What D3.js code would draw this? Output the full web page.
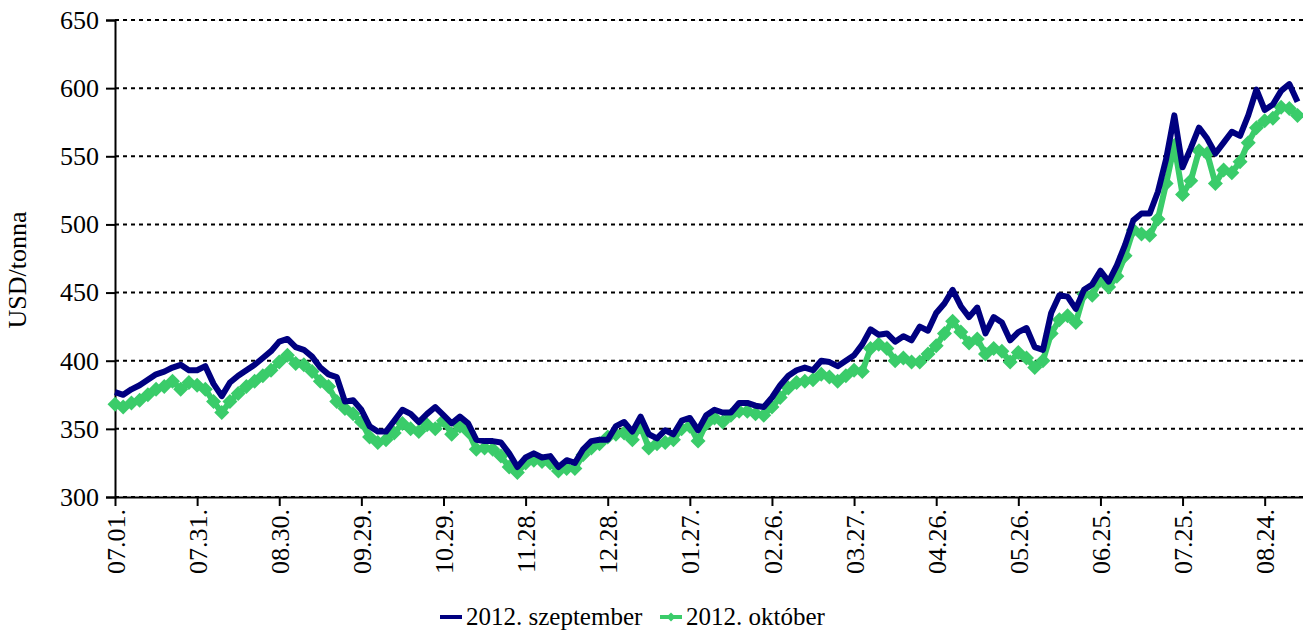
<!DOCTYPE html>
<html>
<head>
<meta charset="utf-8">
<script src="https://cdn.jsdelivr.net/npm/d3@7"></script>
<style>
  body { margin: 0; background: #fff; }
</style>
</head>
<body>
<div class="chart_container"></div>
<script>
// dates every 3 days, 2011-07-01 .. 2012-09-05
const dates = [
  "2011-07-01","2011-07-04","2011-07-07","2011-07-10","2011-07-13","2011-07-16","2011-07-19","2011-07-22","2011-07-25","2011-07-28","2011-07-31",
  "2011-08-03","2011-08-06","2011-08-09","2011-08-12","2011-08-15","2011-08-18","2011-08-21","2011-08-24","2011-08-27","2011-08-30",
  "2011-09-02","2011-09-05","2011-09-08","2011-09-11","2011-09-14","2011-09-17","2011-09-20","2011-09-23","2011-09-26","2011-09-29",
  "2011-10-02","2011-10-05","2011-10-08","2011-10-11","2011-10-14","2011-10-17","2011-10-20","2011-10-23","2011-10-26","2011-10-29",
  "2011-11-01","2011-11-04","2011-11-07","2011-11-10","2011-11-13","2011-11-16","2011-11-19","2011-11-22","2011-11-25","2011-11-28",
  "2011-12-01","2011-12-04","2011-12-07","2011-12-10","2011-12-13","2011-12-16","2011-12-19","2011-12-22","2011-12-25","2011-12-28","2011-12-31",
  "2012-01-03","2012-01-06","2012-01-09","2012-01-12","2012-01-15","2012-01-18","2012-01-21","2012-01-24","2012-01-27","2012-01-30",
  "2012-02-02","2012-02-05","2012-02-08","2012-02-11","2012-02-14","2012-02-17","2012-02-20","2012-02-23","2012-02-26","2012-02-29",
  "2012-03-03","2012-03-06","2012-03-09","2012-03-12","2012-03-15","2012-03-18","2012-03-21","2012-03-24","2012-03-27","2012-03-30",
  "2012-04-02","2012-04-05","2012-04-08","2012-04-11","2012-04-14","2012-04-17","2012-04-20","2012-04-23","2012-04-26","2012-04-29",
  "2012-05-02","2012-05-05","2012-05-08","2012-05-11","2012-05-14","2012-05-17","2012-05-20","2012-05-23","2012-05-26","2012-05-29",
  "2012-06-01","2012-06-04","2012-06-07","2012-06-10","2012-06-13","2012-06-16","2012-06-19","2012-06-22","2012-06-25","2012-06-28",
  "2012-07-01","2012-07-04","2012-07-07","2012-07-10","2012-07-13","2012-07-16","2012-07-19","2012-07-22","2012-07-25","2012-07-28","2012-07-31",
  "2012-08-03","2012-08-06","2012-08-09","2012-08-12","2012-08-15","2012-08-18","2012-08-21","2012-08-24","2012-08-27","2012-08-30",
  "2012-09-02","2012-09-05"
];

const szeptember = [
  377,375,379,382,386,390,392,395,397,393,393,
  396,383,374,384,389,393,397,402,407,414,
  416,410,408,403,395,390,388,370,371,364,
  352,348,348,356,364,361,355,361,366,360,
  354,359,354,342,341,341,340,332,322,329,
  332,329,330,322,327,325,335,341,342,342,352,
  355,348,359,346,343,349,346,356,358,349,
  360,364,362,362,369,369,367,366,373,382,
  389,393,395,393,400,399,396,400,404,412,
  423,419,420,414,418,415,425,422,435,442,
  452,440,432,439,420,432,428,415,421,424,
  410,408,435,448,447,438,452,456,466,458,
  470,485,503,508,508,524,548,580,542,556,571,
  563,552,560,568,565,580,599,584,588,598,
  603,590
];

const oktober = [
  368,366,369,371,375,379,381,385,379,384,382,
  379,370,362,370,376,381,385,389,393,399,
  404,398,397,392,385,381,370,365,361,355,
  344,340,342,347,354,350,348,353,350,356,
  346,352,348,335,336,335,330,322,318,325,
  327,326,325,319,321,321,331,336,339,344,346,
  347,342,352,336,339,340,342,350,352,341,
  354,358,355,360,363,363,361,360,366,373,
  380,384,385,386,390,388,385,389,393,392,
  409,412,409,400,402,399,399,405,411,420,
  429,421,413,416,405,409,407,399,406,402,
  395,400,420,430,433,428,449,448,459,454,
  462,477,496,493,492,504,530,558,522,532,554,
  552,530,540,538,546,560,571,576,578,586,
  585,580
];

const tickDates = ["2011-07-01","2011-07-31","2011-08-30","2011-09-29","2011-10-29","2011-11-28","2011-12-28",
  "2012-01-27","2012-02-26","2012-03-27","2012-04-26","2012-05-26","2012-06-25","2012-07-25","2012-08-24"];
const yTicks = [300, 350, 400, 450, 500, 550, 600, 650];
const seriesNames = ["2012. szeptember", "2012. október"];

const width = 1303, height = 633;
const plot = { left: 115, right: 1303, top: 20, bottom: 497 };
const parse = d3.timeParse("%Y-%m-%d");
const navy = "#000080", green = "#3acc6a";
const serif = "'Liberation Serif', 'Times New Roman', Times, serif";
const fontSize = '26px';

function drawChart() {
  const container = document.querySelector('div.chart_container');
  container.innerHTML = `<svg id="svgCont" width=${width} height=${height}></svg>`;
  const svg = d3.select(container).select('#svgCont');

  const xScale = d3.scaleTime()
    .domain([parse("2011-07-01"), parse("2012-09-07")])
    .range([plot.left, plot.right]);
  const yScale = d3.scaleLinear()
    .domain([300, 650])
    .range([plot.bottom, plot.top]);

  // grid
  svg.append('g').selectAll('line')
    .data(yTicks).enter().append('line')
    .attr('x1', plot.left).attr('x2', plot.right)
    .attr('y1', d => yScale(d)).attr('y2', d => yScale(d))
    .attr('stroke', '#000').attr('stroke-width', 2)
    .attr('stroke-dasharray', '4,4');

  // y axis
  const yAxis = svg.append('g')
    .attr('transform', `translate(${plot.left},0)`)
    .call(d3.axisLeft(yScale).tickValues(yTicks).tickSize(9).tickPadding(7));
  yAxis.attr('font-family', null).attr('font-size', null);
  yAxis.select('.domain').attr('stroke', '#000').attr('stroke-width', 2);
  yAxis.selectAll('.tick line').attr('stroke', '#000').attr('stroke-width', 2);
  yAxis.selectAll('text').style('font-family', serif).style('font-size', fontSize).attr('fill', '#000');

  // x axis
  const xAxis = svg.append('g')
    .attr('transform', `translate(0,${plot.bottom})`)
    .call(d3.axisBottom(xScale).tickValues(tickDates.map(parse))
      .tickFormat(d3.timeFormat("%m.%d.")).tickSize(9).tickSizeOuter(0));
  xAxis.attr('font-family', null).attr('font-size', null);
  xAxis.select('.domain').attr('stroke', '#000').attr('stroke-width', 2);
  xAxis.selectAll('.tick line').attr('stroke', '#000').attr('stroke-width', 2);
  xAxis.selectAll('text')
    .style('font-family', serif).style('font-size', fontSize).attr('fill', '#000')
    .attr('text-anchor', 'end')
    .attr('transform', 'rotate(-90)')
    .attr('x', -12).attr('y', 0).attr('dy', '0.35em');

  // y title
  svg.append('text')
    .attr('transform', `translate(26,270) rotate(-90)`)
    .attr('text-anchor', 'middle')
    .style('font-family', serif).style('font-size', fontSize)
    .text('USD/tonna');

  const rows = dates.map((d, i) => ({ date: parse(d), sz: szeptember[i], ok: oktober[i] }));
  const diamond = "M0,-7.5 L7.5,0 L0,7.5 L-7.5,0 Z";

  const lineOk = d3.line().x(d => xScale(d.date)).y(d => yScale(d.ok));
  const lineSz = d3.line().x(d => xScale(d.date)).y(d => yScale(d.sz));

  svg.append('path').datum(rows)
    .attr('d', lineOk).attr('fill', 'none')
    .attr('stroke', green).attr('stroke-width', 6).attr('stroke-linejoin', 'round');
  svg.append('g').selectAll('path')
    .data(rows).enter().append('path')
    .attr('d', diamond)
    .attr('transform', d => `translate(${xScale(d.date)},${yScale(d.ok)})`)
    .attr('fill', green);

  svg.append('path').datum(rows)
    .attr('d', lineSz).attr('fill', 'none')
    .attr('stroke', navy).attr('stroke-width', 6).attr('stroke-linejoin', 'round');

  // legend (kept slightly above the bottom edge so descenders fit)
  const legend = svg.append('g').attr('transform', 'translate(440,617)');
  legend.append('line').attr('x1', 0).attr('x2', 22).attr('y1', 0).attr('y2', 0)
    .attr('stroke', navy).attr('stroke-width', 4);
  legend.append('text').attr('x', 26).attr('y', 0).attr('dy', '0.33em')
    .style('font-family', serif).style('font-size', '25px').text(seriesNames[0]);
  legend.append('line').attr('x1', 220).attr('x2', 242).attr('y1', 0).attr('y2', 0)
    .attr('stroke', green).attr('stroke-width', 4);
  legend.append('path').attr('d', "M0,-4.5 L4.5,0 L0,4.5 L-4.5,0 Z")
    .attr('transform', 'translate(231,0)').attr('fill', green);
  legend.append('text').attr('x', 246).attr('y', 0).attr('dy', '0.33em')
    .style('font-family', serif).style('font-size', '25px').text(seriesNames[1]);
}

drawChart();
</script>
</body>
</html>
